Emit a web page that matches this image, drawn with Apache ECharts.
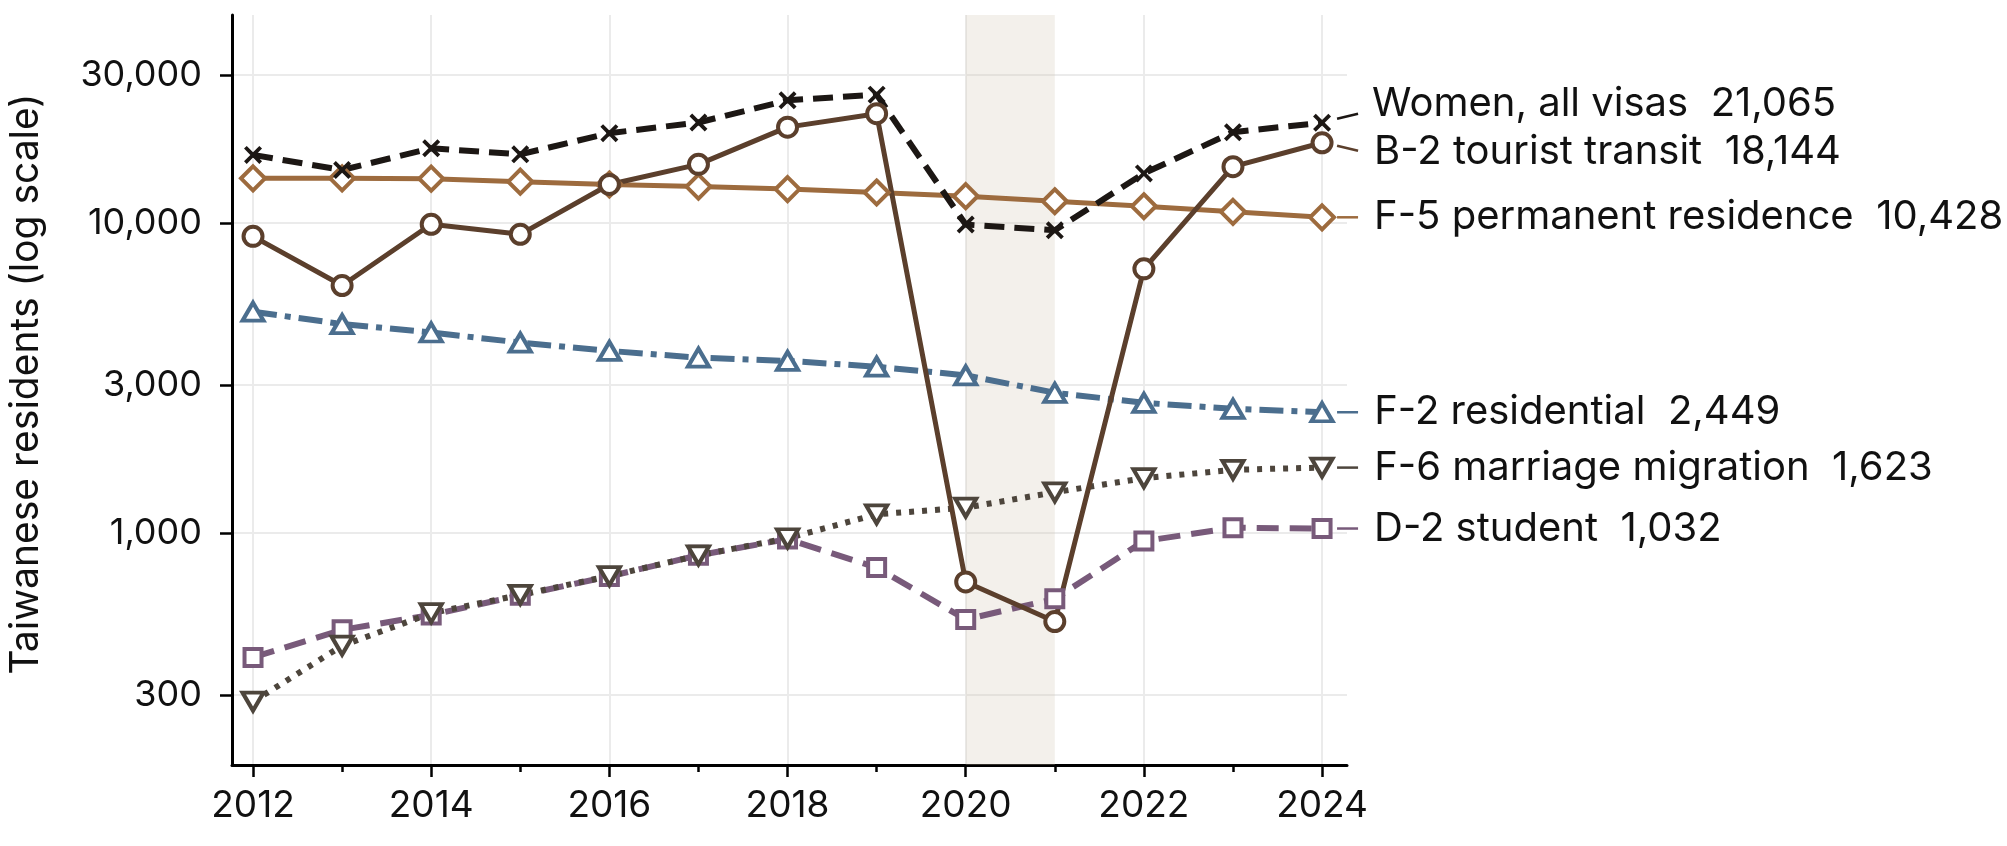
<!DOCTYPE html>
<html>
<head>
<meta charset="utf-8">
<script src="https://cdn.jsdelivr.net/npm/echarts@6/dist/echarts.min.js"></script>
<style>
html, body { margin: 0; padding: 0; background: #fff; }
#main { width: 2007px; height: 846px; }
</style>
</head>
<body>
<div id="main"></div>
<script>
// data
var years = [2012, 2013, 2014, 2015, 2016, 2017, 2018, 2019, 2020, 2021, 2022, 2023, 2024];
var seriesNames = ['Women, all visas', 'B-2 tourist transit', 'F-5 permanent residence', 'F-2 residential', 'F-6 marriage migration', 'D-2 student'];
var women = [16580, 14820, 17420, 16650, 19490, 21100, 24880, 25950, 9880, 9470, 14450, 19630, 21065];
var b2 = [9050, 6280, 9900, 9190, 13310, 15460, 20380, 22520, 694, 517, 7110, 15190, 18144];
var f5 = [13930, 13930, 13900, 13590, 13310, 13100, 12860, 12540, 12200, 11750, 11320, 10860, 10428];
var f2 = [5170, 4716, 4430, 4110, 3863, 3675, 3587, 3436, 3222, 2830, 2627, 2512, 2449];
var f6 = [285, 432, 550, 630, 725, 845, 960, 1147, 1205, 1351, 1500, 1597, 1623];
var d2 = [396, 486, 543, 628, 723, 846, 954, 772, 525, 612, 940, 1038, 1032];
var yTicks = [300, 1000, 3000, 10000, 30000];
var xLabelYears = [2012, 2014, 2016, 2018, 2020, 2022, 2024];
var xMinorYears = [2013, 2015, 2017, 2019, 2021, 2023];
var covidBand = [2020, 2021];

// look of each series, same order as seriesNames
var colors = ['#1c1714', '#5b3f2c', '#9d6b3e', '#4b6e8e', '#4d453c', '#785a7a'];
// leader lines next to the end labels (pixel offsets from the last point)
var leaderOffsets = [[-4, -9], [3, 8], [0, 0], [0, 0], [0, 0], [0, 0]];
var labelShift = [-19, 9, 0, 0, 0, 0];

var font = 'Inter';
var fmt = function (v) { return Number(v).toLocaleString('en-US'); };

var makeSeries = function (idx, values, lineType, width, symbol, symbolSize, extra) {
    var color = colors[idx];
    var symW = Array.isArray(symbolSize) ? symbolSize[0] : symbolSize;
    var pts = values.map(function (v, i) { return [years[i], v]; });
    var last = pts.length - 1;
    pts[last] = {
        value: pts[last],
        label: {
            show: true,
            position: 'right',
            distance: 50 - symW / 2,
            fontFamily: font,
            fontSize: 40,
            color: '#111',
            formatter: seriesNames[idx] + '  ' + fmt(values[last])
        }
    };
    var s = {
        name: seriesNames[idx],
        type: 'line',
        data: pts,
        symbol: symbol,
        symbolSize: symbolSize,
        showAllSymbol: true,
        lineStyle: { color: color, width: width, type: lineType, cap: 'butt' },
        itemStyle: { color: '#fff', borderColor: color, borderWidth: 4 },
        labelLayout: { dy: labelShift[idx] },
        emphasis: { disabled: true },
        animation: false
    };
    for (var k in extra) { s[k] = extra[k]; }
    return s;
};

var allSeries = [women, b2, f5, f2, f6, d2];
var leaderData = allSeries.map(function (arr, i) {
    return [years[years.length - 1], arr[arr.length - 1], i];
});

var myChart = echarts.init(document.getElementById('main'));

var option = {
    backgroundColor: '#fff',
    animation: false,
    grid: { left: 232, top: 15, right: 660, bottom: 81, containLabel: false, outerBoundsMode: 'none' },
    xAxis: [{
        type: 'value',
        min: 2011.764,
        max: 2024.28,
        axisLine: { show: true, onZero: false, lineStyle: { color: '#000', width: 3 } },
        axisTick: { show: true, length: 12, customValues: xLabelYears, lineStyle: { color: '#000', width: 2.5 } },
        axisLabel: { customValues: xLabelYears, margin: 22, fontFamily: font, fontSize: 37, color: '#111', formatter: function (v) { return String(v); } },
        splitLine: { show: true, lineStyle: { color: '#ebebeb', width: 2 } }
    }, {
        type: 'value',
        position: 'bottom',
        min: 2011.764,
        max: 2024.28,
        axisLine: { show: false },
        axisTick: { show: true, length: 7, customValues: xMinorYears, lineStyle: { color: '#000', width: 2.5 } },
        axisLabel: { show: false },
        splitLine: { show: false }
    }],
    yAxis: {
        type: 'log',
        logBase: 10,
        min: 178,
        max: 46900,
        name: 'Taiwanese residents (log scale)',
        nameLocation: 'middle',
        nameGap: 186,
        nameTextStyle: { fontFamily: font, fontSize: 39, color: '#111', padding: [0, 0, 0, 12] },
        axisLine: { show: true, onZero: false, lineStyle: { color: '#000', width: 3 } },
        axisTick: { show: true, length: 12, customValues: yTicks, lineStyle: { color: '#000', width: 2.5 } },
        axisLabel: { customValues: yTicks, margin: 30, fontFamily: font, fontSize: 36, color: '#111', formatter: fmt },
        splitLine: { show: true, lineStyle: { color: '#ebebeb', width: 2 } },
        minorTick: { show: false }
    },
    series: [
        makeSeries(5, d2, [22, 11], 6, 'rect', 17, {
            markArea: {
                silent: true,
                itemStyle: { color: 'rgba(207,195,175,0.25)' },
                data: [[{ xAxis: covidBand[0] }, { xAxis: covidBand[1] }]]
            }
        }),
        makeSeries(4, f6, [5, 8], 6, 'triangle', [21, 18], { symbolRotate: 180 }),
        makeSeries(3, f2, [24, 8, 6, 8], 6, 'triangle', [21, 18], {}),
        makeSeries(2, f5, 'solid', 5, 'diamond', 24, {}),
        makeSeries(1, b2, 'solid', 5, 'circle', 19, {}),
        makeSeries(0, women, [20, 10], 6, 'path://M0,3 L3,0 L10,7 L17,0 L20,3 L13,10 L20,17 L17,20 L10,13 L3,20 L0,17 L7,10 Z', 18, {
            itemStyle: { color: colors[0], borderWidth: 0 }
        }),
        {
            // short leader lines between each end point and its label
            type: 'custom',
            clip: false,
            silent: true,
            encode: { x: 0, y: 1 },
            data: leaderData,
            renderItem: function (params, api) {
                var p = api.coord([api.value(0), api.value(1)]);
                var i = api.value(2);
                var off = leaderOffsets[i];
                return {
                    type: 'line',
                    shape: { x1: p[0] + 15, y1: p[1] + off[0], x2: p[0] + 36, y2: p[1] + off[1] },
                    style: { stroke: colors[i], lineWidth: 2.5 }
                };
            }
        }
    ]
};

myChart.setOption(option);
</script>
</body>
</html>
